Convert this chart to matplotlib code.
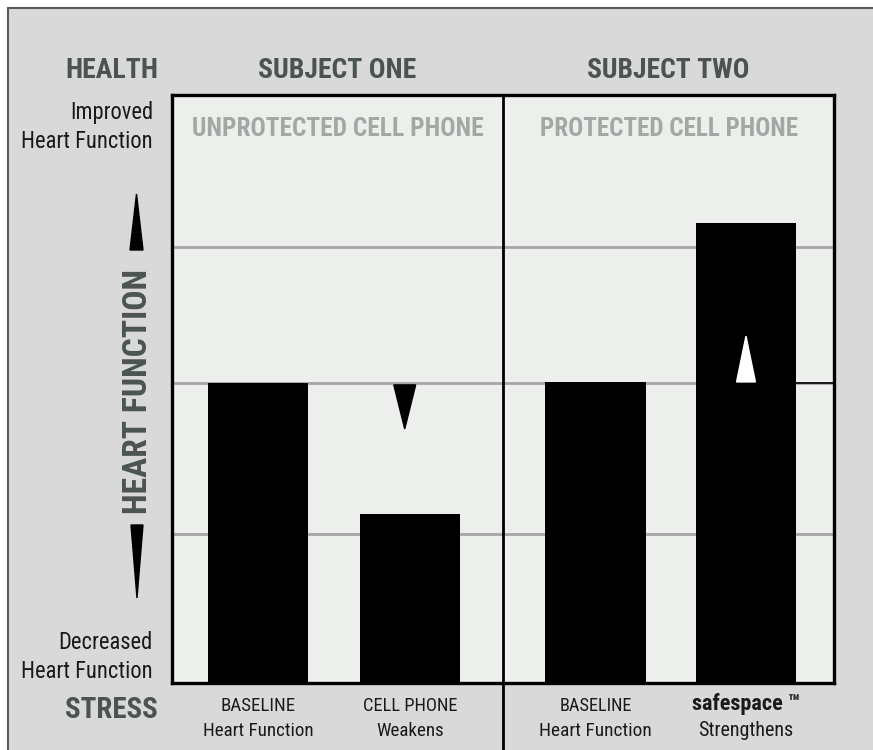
import matplotlib
matplotlib.use("Agg")
import matplotlib.pyplot as plt
from matplotlib import font_manager as fm
from matplotlib.patches import Rectangle, Polygon
import matplotlib.transforms as mtransforms

# data (heart function level, 0 = decreased .. 100 = improved)
bar_pos = [0.0, 1.0, 2.22, 3.21]
bar_vals = [51.0, 28.7, 51.2, 78.2]
bar_line1 = ["BASELINE", "CELL PHONE", "BASELINE", "safespace \u2122"]
bar_line2 = ["Heart Function", "Weakens", "Heart Function", "Strengthens"]
grid_levels = [25.3, 51.0, 74.1]
subjects = ["SUBJECT ONE", "SUBJECT TWO"]
conditions = ["UNPROTECTED CELL PHONE", "PROTECTED CELL PHONE"]
divider_x = 1.612
bar_w = 0.658

W, H = 873, 750
DARK = "#4b544e"
LIGHT = "#a2a9a4"
INK = "#1a1a1a"


def pick_narrow_font():
    # look for any condensed / narrow face that happens to be installed
    condensed = ("condensed", "semi-condensed", "extra-condensed", "ultra-condensed")
    found = []
    for f in fm.fontManager.ttflist:
        st = f.stretch
        narrow = "Narrow" in f.name or "Condensed" in f.name
        if isinstance(st, str):
            narrow = narrow or st in condensed
        else:
            narrow = narrow or st < 500
        if narrow:
            found.append((f.name, st))
    order = ["Liberation Sans Narrow", "Roboto Condensed", "Open Sans Condensed",
             "Noto Sans", "DejaVu Sans"]
    for want in order:
        for name, st in found:
            if name == want:
                return name, st
    if found:
        return found[0]
    return "Roboto", "normal"


FAMILY, STRETCH = pick_narrow_font()


def fx(px):
    return px / W


def fy(py):
    return 1 - py / H


fig = plt.figure(figsize=(W / 100, H / 100), dpi=100, facecolor="white")

# outer grey panel with border (cut off on the right/bottom)
fig.patches.append(Rectangle((fx(8), -0.05), 1.2, fy(8) + 0.05, transform=fig.transFigure,
                             facecolor="#d9d9d9", edgecolor="#5a5a5a", lw=1.5, zorder=-10))

ax = fig.add_axes([fx(172), fy(683), fx(834) - fx(172), fy(95) - fy(683)])
ax.set_facecolor("#edefed")
ax.set_xlim(-0.566, 3.789)
ax.set_ylim(0, 100)

ax.set_yticks(grid_levels)
ax.set_yticklabels([])
ax.set_xticks([])
ax.tick_params(length=0)
ax.yaxis.grid(True, color="#a5a5a5", lw=2)
ax.set_axisbelow(True)
for sp in ax.spines.values():
    sp.set_linewidth(2.4)
    sp.set_color("black")

ax.bar(bar_pos, bar_vals, width=bar_w, color="black", zorder=3)

# the baseline line turns thin black right of the last bar
ax.hlines(grid_levels[1], bar_pos[3] + bar_w / 2, ax.get_xlim()[1], color="black",
          lw=1.2, zorder=2)

# divider between subjects, runs down through the label area
ax.axvline(divider_x, ymin=-0.12, ymax=1, color="black", lw=2, clip_on=False, zorder=4)

# change markers relative to baseline
base = bar_vals[0]
dx, dh = 0.072, 7.8
cx = bar_pos[1] - 0.035
ax.add_patch(Polygon([(cx - dx, base - 0.3), (cx + dx, base - 0.3), (cx, base - dh)],
                     closed=True, color="black", zorder=5))
ux, uh = 0.062, 7.8
cx = bar_pos[3]
ax.add_patch(Polygon([(cx - ux, bar_vals[2]), (cx + ux, bar_vals[2]), (cx, bar_vals[2] + uh)],
                     closed=True, color="white", zorder=5))

fitted = []  # (text, target width px, max size)


def txt(where, x, y, s, width, maxsize, bold=False, **kw):
    t = where(x, y, s, fontsize=maxsize, fontweight="bold" if bold else "normal",
              family=[FAMILY, "DejaVu Sans"], fontstretch=STRETCH, **kw)
    fitted.append((t, width, maxsize))
    return t


# panel headings
panel_centers = [(ax.get_xlim()[0] + divider_x) / 2, (divider_x + ax.get_xlim()[1]) / 2]
trans = mtransforms.blended_transform_factory(ax.transData, fig.transFigure)
sub_w = [158, 162]
cond_w = [291, 259]
for c, s, cond, sw, cw in zip(panel_centers, subjects, conditions, sub_w, cond_w):
    txt(ax.text, c, fy(71), s, sw, 22, bold=True, transform=trans, ha="center",
        va="center", color=DARK)
    txt(ax.text, c, fy(129), cond, cw, 20, bold=True, transform=trans, ha="center",
        va="center", color=LIGHT)

# bar labels below the axis
l1_w = [75, 95, 73, 109]
l2_w = [111, 68, 113, 95]
for p, l1, l2, w1, w2 in zip(bar_pos, bar_line1, bar_line2, l1_w, l2_w):
    if l1.startswith("safespace"):
        txt(ax.text, p, fy(704), l1, w1, 16, bold=True, transform=trans, ha="center",
            va="center", color=INK)
    else:
        txt(ax.text, p, fy(706), l1, w1, 14, transform=trans, ha="center",
            va="center", color=INK)
    txt(ax.text, p, fy(731), l2, w2, 15, transform=trans, ha="center", va="center",
        color=INK)

# left-hand scale text
txt(fig.text, fx(158), fy(71), "HEALTH", 93, 25, bold=True, ha="right", va="center",
    color=DARK)
txt(fig.text, fx(158), fy(710), "STRESS", 93, 25, bold=True, ha="right", va="center",
    color=DARK)
txt(fig.text, fx(153), fy(127), "Improved\nHeart Function", 131, 17, ha="right",
    va="center", color=INK, linespacing=1.3)
txt(fig.text, fx(153), fy(657), "Decreased\nHeart Function", 131, 17, ha="right",
    va="center", color=INK, linespacing=1.3)
txt(fig.text, fx(138), fy(392), "HEART FUNCTION", 245, 26, bold=True, ha="center",
    va="center", rotation=90, color=DARK)

# squeeze each text to the width it takes in the original
fig.canvas.draw()
r = fig.canvas.get_renderer()
for t, w, mx in fitted:
    bb = t.get_window_extent(r)
    cur = max(bb.width, bb.height) if t.get_rotation() else bb.width
    t.set_fontsize(min(mx, t.get_fontsize() * w / cur))

# vertical arrows beside the axis title
fig.patches.append(Polygon([(fx(130), fy(250)), (fx(143), fy(250)), (fx(136.5), fy(194))],
                           closed=True, transform=fig.transFigure, color="black"))
fig.patches.append(Polygon([(fx(131), fy(525)), (fx(143), fy(525)), (fx(137), fy(598))],
                           closed=True, transform=fig.transFigure, color="black"))

fig.savefig("out.png", dpi=100, facecolor=fig.get_facecolor())
